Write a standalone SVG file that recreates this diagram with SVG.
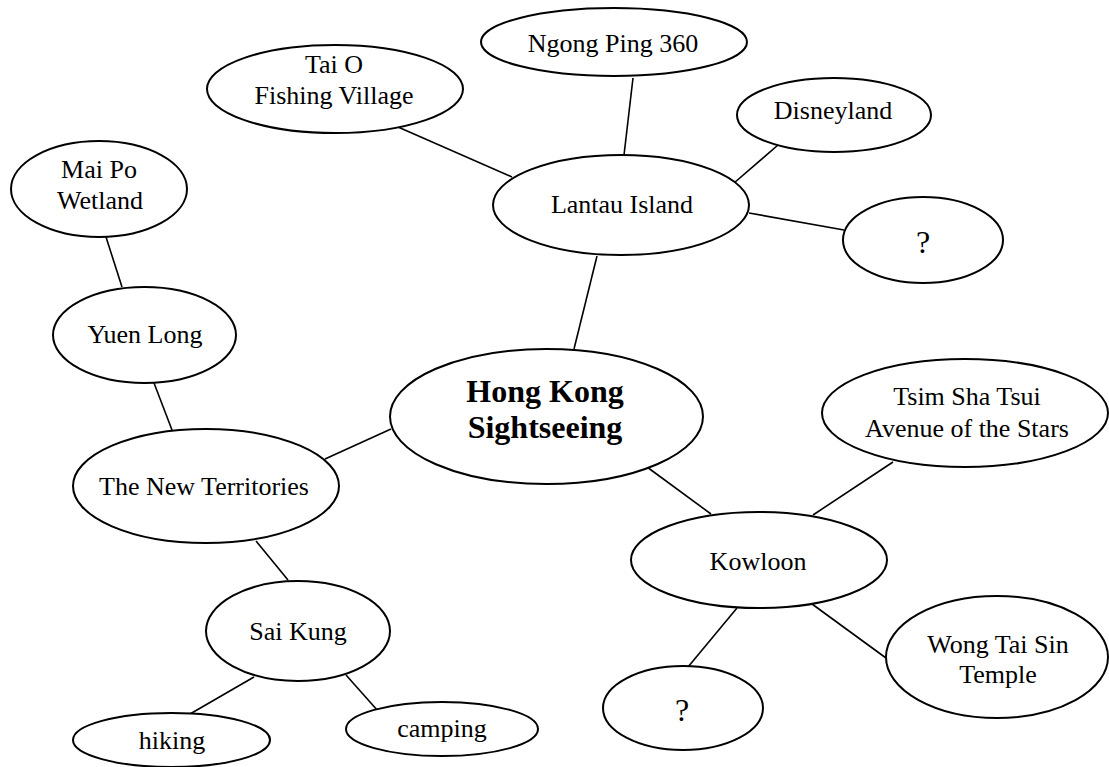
<svg xmlns="http://www.w3.org/2000/svg" width="1109" height="767" viewBox="0 0 1109 767">
<style>
.n ellipse{fill:#fff;stroke:#000;stroke-width:2}
.n text{font-family:"Liberation Serif","Times New Roman",serif;font-size:26px;fill:#000;text-anchor:middle}
.n text.b{font-weight:bold;font-size:32px}
.n text.q{font-size:32px}
#edges line{stroke:#000;stroke-width:1.6}
</style>
<rect width="1109" height="767" fill="#fff"/>
<g id="edges">
<line x1="398" y1="127" x2="512" y2="177"/>
<line x1="633" y1="78" x2="624" y2="155"/>
<line x1="778" y1="145" x2="734" y2="183"/>
<line x1="749" y1="213" x2="844" y2="230"/>
<line x1="597" y1="256" x2="574" y2="349"/>
<line x1="325" y1="459" x2="391" y2="429"/>
<line x1="647" y1="467" x2="711" y2="514"/>
<line x1="106" y1="237" x2="122" y2="287"/>
<line x1="154" y1="383" x2="172" y2="430"/>
<line x1="256" y1="541" x2="288" y2="580"/>
<line x1="254" y1="677" x2="190" y2="714"/>
<line x1="346" y1="675" x2="378" y2="711"/>
<line x1="813" y1="515" x2="893" y2="462"/>
<line x1="737" y1="608" x2="688" y2="667"/>
<line x1="812" y1="604" x2="886" y2="658"/>
</g>
<g id="taio" class="n"><ellipse cx="335" cy="89" rx="128" ry="44"/><text x="334" y="73">Tai O</text><text x="334" y="104">Fishing Village</text></g>
<g id="ngongping" class="n"><ellipse cx="614" cy="42" rx="133" ry="34"/><text x="613" y="52">Ngong Ping 360</text></g>
<g id="disneyland" class="n"><ellipse cx="834" cy="115" rx="97" ry="37"/><text x="833" y="119">Disneyland</text></g>
<g id="lantau" class="n"><ellipse cx="621" cy="205" rx="128" ry="50"/><text x="622" y="213">Lantau Island</text></g>
<g id="q1" class="n"><ellipse cx="923" cy="240" rx="80" ry="43"/><text class="q" x="923" y="253">?</text></g>
<g id="maipo" class="n"><ellipse cx="99" cy="189" rx="88" ry="48"/><text x="99" y="178">Mai Po</text><text x="100" y="209">Wetland</text></g>
<g id="yuenlong" class="n"><ellipse cx="144.5" cy="335" rx="91.5" ry="48"/><text x="145" y="343">Yuen Long</text></g>
<g id="hk" class="n"><ellipse cx="546.5" cy="416.5" rx="156.5" ry="67.5"/><text class="b" x="545" y="402">Hong Kong</text><text class="b" x="545" y="438">Sightseeing</text></g>
<g id="nt" class="n"><ellipse cx="206" cy="486" rx="133" ry="57"/><text x="204" y="495">The New Territories</text></g>
<g id="tst" class="n"><ellipse cx="965" cy="413" rx="143" ry="54"/><text x="967" y="405">Tsim Sha Tsui</text><text x="967" y="437">Avenue of the Stars</text></g>
<g id="kowloon" class="n"><ellipse cx="759" cy="560" rx="128" ry="48"/><text x="758" y="570">Kowloon</text></g>
<g id="saikung" class="n"><ellipse cx="298" cy="631" rx="92" ry="50"/><text x="298" y="640">Sai Kung</text></g>
<g id="hiking" class="n"><ellipse cx="171.5" cy="740" rx="98.5" ry="27"/><text x="172" y="749">hiking</text></g>
<g id="camping" class="n"><ellipse cx="442" cy="729" rx="96" ry="27"/><text x="442" y="737">camping</text></g>
<g id="q2" class="n"><ellipse cx="683" cy="708" rx="80" ry="42"/><text class="q" x="682" y="721">?</text></g>
<g id="wongtaisin" class="n"><ellipse cx="997" cy="657" rx="111" ry="61"/><text x="998" y="653">Wong Tai Sin</text><text x="998" y="683">Temple</text></g>
</svg>
